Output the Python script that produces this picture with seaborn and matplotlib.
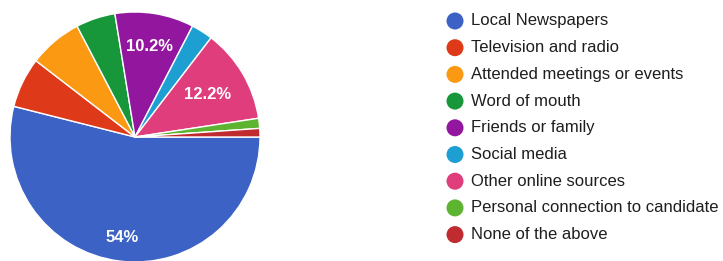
import matplotlib.pyplot as plt
import numpy as np
import seaborn as sns

sources = [
    "Local Newspapers",
    "Television and radio",
    "Attended meetings or events",
    "Word of mouth",
    "Friends or family",
    "Social media",
    "Other online sources",
    "Personal connection to candidate",
    "None of the above",
]
shares = [54.0, 6.5, 6.9, 5.1, 10.2, 2.8, 12.2, 1.3, 1.1]
colors = ["#3b62c4", "#de3a1a", "#fb9a12", "#17973a", "#93179e",
          "#1e9fd2", "#e03d7c", "#5db431", "#bf2b2f"]

if __name__ == "__main__":
    sns.set_style("white")
    plt.rcParams["font.family"] = ["Liberation Sans", "DejaVu Sans"]

    W, H = 723, 261
    fig = plt.figure(figsize=(W / 100, H / 100), dpi=100)

    # pie axes: centre (135, 137) px, radius 125 px
    cx, cy, r = 135, 137, 125
    ax = fig.add_axes([(cx - r) / W, (H - cy - r) / H, 2 * r / W, 2 * r / H])
    ax.pie(
        shares,
        colors=colors,
        startangle=0,
        counterclock=False,
        radius=1,
        wedgeprops=dict(edgecolor="white", linewidth=1),
    )
    ax.set_xlim(-1, 1)
    ax.set_ylim(-1, 1)
    ax.axis("off")

    # percentage labels only on the big slices
    label_r = {0: 0.81, 4: 0.73, 6: 0.67}
    total = sum(shares)
    start = 0.0
    for i, val in enumerate(shares):
        mid = start - val / total * 180
        start -= val / total * 360
        if i in label_r:
            rr = label_r[i]
            ax.text(rr * np.cos(np.radians(mid)), rr * np.sin(np.radians(mid)),
                    f"{val:g}%", color="white", ha="center", va="center",
                    fontsize=12, fontweight="bold")

    # legend
    lax = fig.add_axes([0, 0, 1, 1])
    lax.set_xlim(0, W)
    lax.set_ylim(H, 0)
    lax.axis("off")
    ys = [21 + 26.7 * i for i in range(len(sources))]
    sns.scatterplot(x=[455] * len(sources), y=ys, hue=sources, palette=colors,
                    s=150, edgecolor="none", legend=False, ax=lax)
    for y, name in zip(ys, sources):
        lax.text(471, y, name, ha="left", va="center", fontsize=12, color="#1e1e1e")

    fig.savefig("out.png", dpi=100)
